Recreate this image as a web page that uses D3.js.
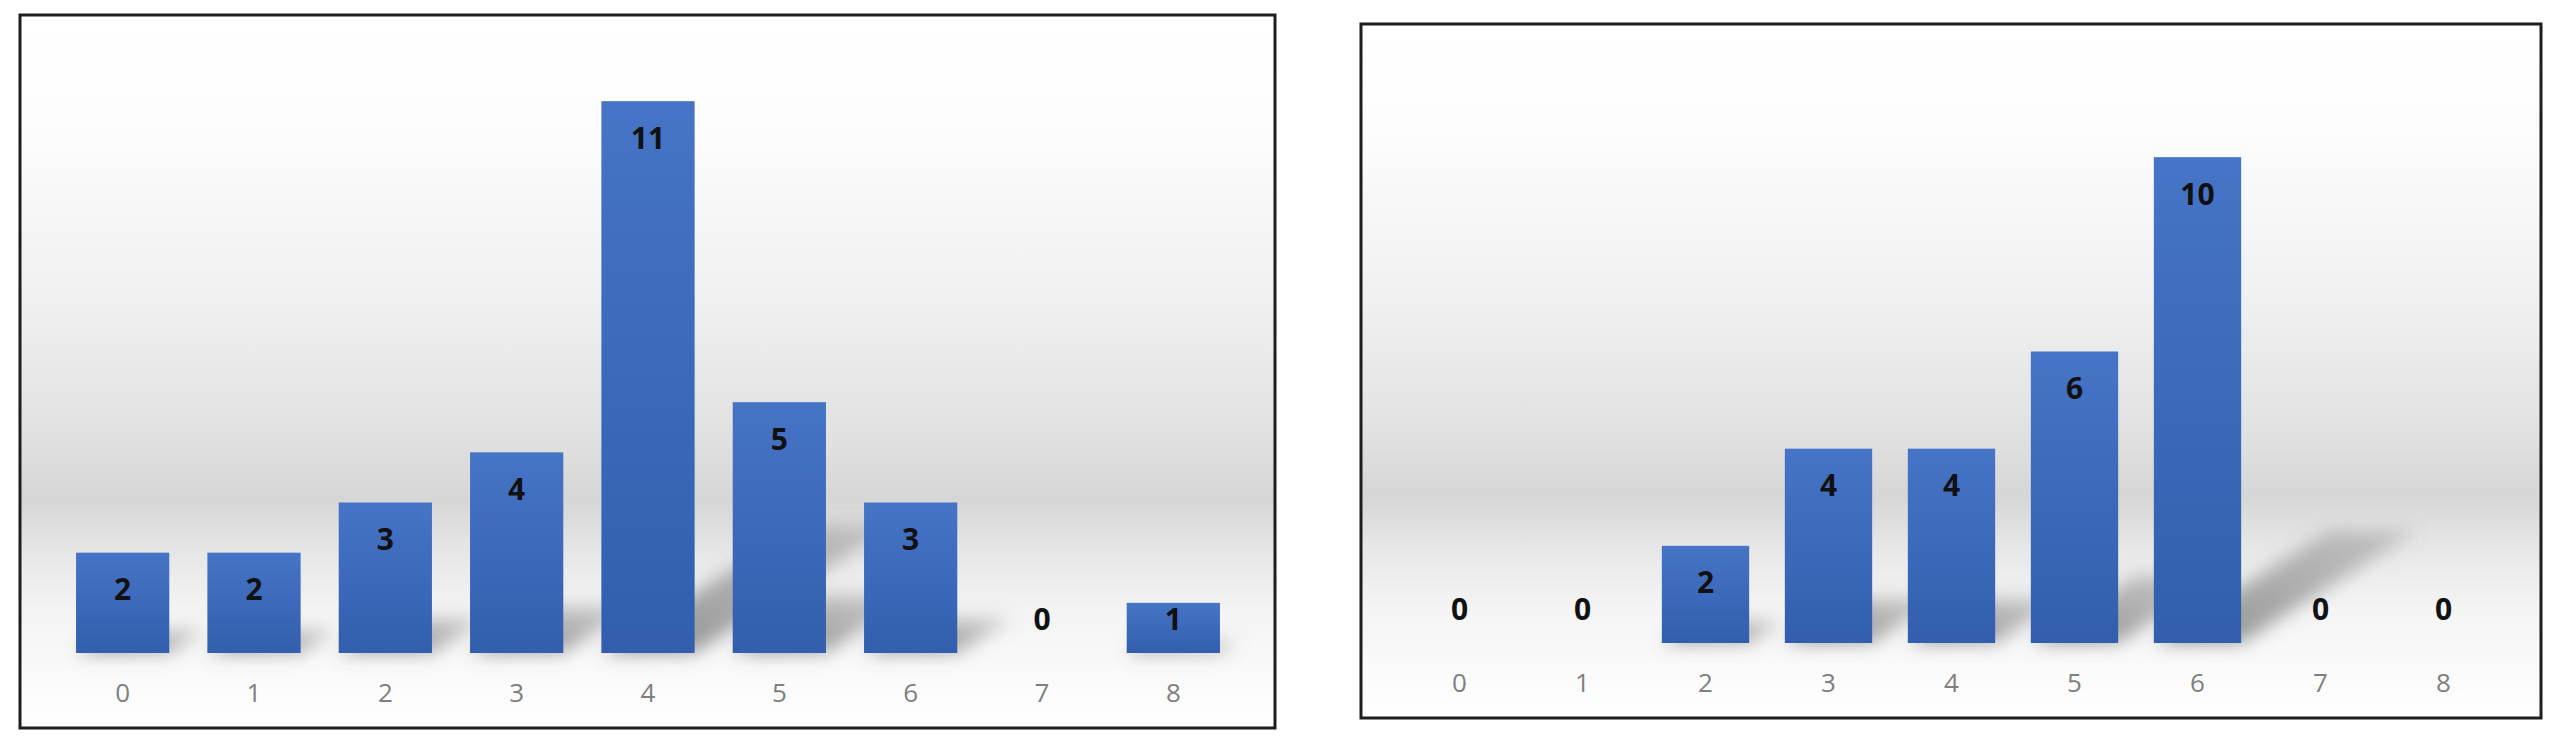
<!DOCTYPE html>
<html>
<head>
<meta charset="utf-8">
<script src="https://cdn.jsdelivr.net/npm/d3@7"></script>
<style>
  html, body { margin: 0; padding: 0; background: #ffffff; }
  svg { display: block; }
</style>
</head>
<body>
<svg id="main-canvas" width="2562" height="747"></svg>
<script>
// categories shared by both charts
const categories = ["0", "1", "2", "3", "4", "5", "6", "7", "8"]
// left chart counts
const leftValues = [2, 2, 3, 4, 11, 5, 3, 0, 1]
// right chart counts
const rightValues = [0, 0, 2, 4, 4, 6, 10, 0, 0]
const yMax = 12

// panel frames (layout only)
const panels = [
    { id: "left",  values: leftValues,  box: { x0: 20,   y0: 15, x1: 1275, y1: 728 } },
    { id: "right", values: rightValues, box: { x0: 1361, y0: 24, x1: 2541, y1: 718 } },
]

const svg = d3.select("#main-canvas")
const defs = svg.append("defs")

// background gradient of the chart area
const bg = defs.append("linearGradient")
    .attr("id", "bg-grad").attr("x1", 0).attr("y1", 0).attr("x2", 0).attr("y2", 1)
;[
    [0, "#ffffff"], [0.15, "#fdfdfd"], [0.4, "#f0f0f0"], [0.58, "#e2e2e2"],
    [0.68, "#d6d6d6"], [0.75, "#e6e6e6"], [0.84, "#f4f4f4"], [1, "#ffffff"]
].forEach(s => bg.append("stop").attr("offset", s[0]).attr("stop-color", s[1]))

// bar gradient
const bar = defs.append("linearGradient")
    .attr("id", "bar-grad").attr("x1", 0).attr("y1", 0).attr("x2", 0).attr("y2", 1)
bar.append("stop").attr("offset", 0).attr("stop-color", "#4674c6")
bar.append("stop").attr("offset", 1).attr("stop-color", "#325ead")

// soft shadow
const blur = defs.append("filter").attr("id", "shadow-blur")
    .attr("x", "-50%").attr("y", "-50%").attr("width", "200%").attr("height", "200%")
blur.append("feGaussianBlur").attr("stdDeviation", 9)

const shadowGrad = defs.append("linearGradient")
    .attr("id", "shadow-grad").attr("x1", 0).attr("y1", 1).attr("x2", 1).attr("y2", 0)
shadowGrad.append("stop").attr("offset", 0).attr("stop-color", "#5e5e5e").attr("stop-opacity", 0.7)
shadowGrad.append("stop").attr("offset", 1).attr("stop-color", "#808080").attr("stop-opacity", 0.35)

for (const p of panels) {
    const b = p.box
    const g = svg.append("g").attr("id", "chart-" + p.id)

    // plot area inside the frame
    const left = b.x0 + 37, right = b.x1 - 36
    const top = b.y0 + 36, base = b.y1 - 75

    const x = d3.scaleBand()
        .domain(categories)
        .range([left, right])
        .paddingInner(0.29)
        .paddingOuter(0.145)

    const y = d3.scaleLinear()
        .domain([0, yMax])
        .range([base, top])

    // background
    g.append("rect")
        .attr("x", b.x0).attr("y", b.y0)
        .attr("width", b.x1 - b.x0).attr("height", b.y1 - b.y0)
        .attr("fill", "url(#bg-grad)")

    const data = categories.map((c, i) => ({ cat: c, value: p.values[i] }))

    // perspective shadows behind the bars
    g.append("g").attr("class", "shadows")
        .attr("filter", "url(#shadow-blur)")
        .selectAll("path")
        .data(data.filter(d => d.value > 0))
        .join("path")
        .attr("fill", "url(#shadow-grad)")
        .attr("d", d => {
            const x0 = x(d.cat), x1 = x(d.cat) + x.bandwidth()
            const h = base - y(d.value)
            const dx = h * 0.36, dy = h * 0.23
            return "M" + x0 + "," + base + "L" + x1 + "," + base +
                "L" + (x1 + dx) + "," + (base - dy) + "L" + (x0 + dx) + "," + (base - dy) + "Z"
        })

    // bars
    g.append("g").attr("class", "bars")
        .selectAll("rect")
        .data(data.filter(d => d.value > 0))
        .join("rect")
        .attr("x", d => x(d.cat))
        .attr("y", d => y(d.value))
        .attr("width", x.bandwidth())
        .attr("height", d => base - y(d.value))
        .attr("fill", "url(#bar-grad)")

    // value labels (inside end, clamped above the baseline)
    g.append("g").attr("class", "labels")
        .selectAll("text")
        .data(data)
        .join("text")
        .attr("x", d => x(d.cat) + x.bandwidth() / 2)
        .attr("y", d => Math.min(y(d.value) + 36, base - 35))
        .attr("text-anchor", "middle")
        .attr("dominant-baseline", "central")
        .attr("font-family", "'Open Sans', 'DejaVu Sans', sans-serif")
        .attr("font-weight", "bold")
        .attr("font-size", 30)
        .attr("fill", "#111111")
        .text(d => d.value)

    // category axis
    const axis = g.append("g")
        .attr("transform", "translate(0," + base + ")")
        .call(d3.axisBottom(x).tickSize(0))
    axis.select(".domain").remove()
    axis.selectAll("text")
        .attr("y", 39)
        .attr("dy", null)
        .attr("dominant-baseline", "central")
        .attr("font-family", "'Open Sans', 'DejaVu Sans', sans-serif")
        .attr("font-size", 26)
        .attr("fill", "#7f7f7f")

    // frame
    g.append("rect")
        .attr("x", b.x0).attr("y", b.y0)
        .attr("width", b.x1 - b.x0).attr("height", b.y1 - b.y0)
        .attr("fill", "none")
        .attr("stroke", "#1e1e1e")
        .attr("stroke-width", 3)
}
</script>
</body>
</html>
